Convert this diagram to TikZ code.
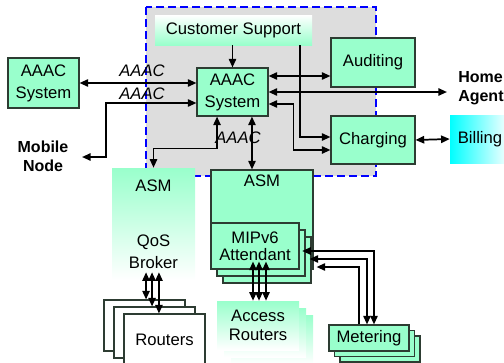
\documentclass[tikz,border=0pt]{standalone}
\usepackage{fontspec}
\setmainfont{Liberation Sans}
\usepackage{xcolor}
\usetikzlibrary{arrows.meta}

\definecolor{mint}{RGB}{153,255,204}
\definecolor{lightgray}{RGB}{221,221,221}
\definecolor{edge}{RGB}{45,60,50}

\begin{document}
\begin{tikzpicture}
	[
	x=0.75pt, y=-0.75pt,
	font=\fontsize{12.5}{16.5}\selectfont,
	box/.style={
		draw=edge,
		fill=mint,
		line width=0.8pt,
		align=center,
		inner sep=0pt
	},
	fadebox/.style={
		top color=mint,
		bottom color=white,
		align=center,
		inner sep=0pt
	},
	plain/.style={
		align=center,
		inner sep=0pt
	},
	outside/.style={
		align=center,
		inner sep=0pt,
		font=\fontsize{12}{14.25}\selectfont\bfseries
	},
	lbl/.style={
		font=\fontsize{12.5}{16.5}\selectfont\itshape,
		inner sep=0pt
	},
	arrow/.style={
		-{Triangle[length=6.5pt,width=5.5pt]},
		line width=1.3pt
	},
	dbl/.style={
		{Triangle[length=6.5pt,width=5.5pt]}-{Triangle[length=6.5pt,width=5.5pt]},
		line width=1.3pt
	}
	]
	
	\useasboundingbox (0,0) rectangle (504,362);
	
	% Operator domain
	\draw[blue, fill=lightgray, line width=1.1pt, dash pattern=on 6pt off 3pt]
		(146,7) rectangle (376,176);
	
	% Upper row
	\node[box, minimum width=53.25pt, minimum height=37.5pt] (lsys) at (43.5,83)
	{AAAC\\System};
	
	\node[box, minimum width=53.25pt, minimum height=36pt] (csys) at (232.5,92)
	{AAAC\\System};
	
	\node[plain, top color=white, bottom color=mint, minimum width=117.75pt, minimum height=22.5pt] (cust) at (233.5,30)
	{Customer Support};
	
	\node[box, minimum width=63pt, minimum height=36.75pt] (audit) at (373,62.5)
	{Auditing};
	
	\node[box, minimum width=63pt, minimum height=36pt] (charg) at (373,140)
	{Charging};
	
	\node[plain, left color=cyan, right color=white, minimum width=45pt, minimum height=36pt] (bill) at (480,139)
	{Billing};
	
	\node[outside, anchor=west, align=left] (home) at (458,88)
	{Home\\Agent};
	
	\node[outside] (mobile) at (43,156)
	{Mobile\\Node};
	
	% ASM blocks
	\node[fadebox, minimum width=62.25pt, minimum height=84pt] (asmq) at (153.5,224)
	{ASM\\[24.75pt]QoS\\Broker};
	
	\node[box, minimum width=76.5pt, minimum height=74.25pt,
		label={[anchor=north, inner sep=0pt, yshift=-4pt]north:ASM}] (asmm) at (262,219.5) {};
	
	\node[box, minimum width=66pt, minimum height=34.5pt] (mip3) at (267,260) {};
	\node[box, minimum width=66pt, minimum height=34.5pt] (mip2) at (261,253) {};
	\node[box, minimum width=66pt, minimum height=34.5pt, font=\fontsize{12.5}{13}\selectfont] (mip) at (255,246)
	{MIPv6\\Attendant};
	
	% Lower row
	\node[box, fill=white, minimum width=60.75pt, minimum height=38.25pt] (rt1) at (144.5,325.5) {};
	\node[box, fill=white, minimum width=60.75pt, minimum height=38.25pt] (rt2) at (154.5,332.5) {};
	\node[box, fill=white, minimum width=60.75pt, minimum height=38.25pt] (rt) at (164.5,339.5)
	{Routers};
	
	\node[fadebox, minimum width=61.5pt, minimum height=36.75pt] (acc3) at (272,339.5) {};
	\node[fadebox, minimum width=61.5pt, minimum height=36.75pt] (acc2) at (265,332.5) {};
	\node[fadebox, minimum width=61.5pt, minimum height=36.75pt, font=\fontsize{12.5}{14}\selectfont] (acc) at (258,325.5)
	{Access\\Routers};
	
	\node[box, minimum width=60pt, minimum height=19.5pt] (mt3) at (380,349) {};
	\node[box, minimum width=60pt, minimum height=19.5pt] (mt2) at (374.5,343.5) {};
	\node[box, minimum width=60pt, minimum height=19.5pt] (mt) at (369,338)
	{Metering};
	
	% Labels
	\node[lbl] (aaac1) at (142,71) {AAAC};
	\node[lbl] (aaac2) at (142,94) {AAAC};
	\node[lbl] (aaac3) at (238,138) {AAAC};
	
	% Free ends
	\coordinate (mn) at (82,157);
	\coordinate (ha) at (447,92);
	
	% Arrows
	\draw[dbl] (lsys.east) -- (lsys.east -| csys.west);
	\draw[dbl] (mn) -- ++(24,0) |- ([yshift=-8.25pt]csys.west);
	
	\draw[arrow] (cust.south -| csys.north) -- (csys.north);
	\draw[arrow] ([xshift=49.9pt]cust.south) |- ([yshift=2.25pt]charg.west);
	
	\draw[dbl] ([yshift=12pt]csys.east) -- ([yshift=12pt]audit.west |- csys.east);
	\draw[dbl] (csys.east) -- (ha);
	\draw[dbl] ([yshift=-9pt]csys.east) -- ++(25,0) |- ([yshift=-7.5pt]charg.west);
	\draw[dbl] (charg.east) -- (bill.west);
	
	\draw[dbl] ([xshift=14.6pt]csys.south) -- ([xshift=-7.5pt]asmm.north);
	\draw[dbl] ([xshift=-11.6pt]csys.south) -- ++(0,32) -| (asmq.north);
	
	% QoS broker to routers
	\coordinate (q1) at ([xshift=-5.6pt, yshift=6pt]asmq.south);
	\coordinate (q2) at ([xshift=-1.1pt, yshift=6pt]asmq.south);
	\coordinate (q3) at ([xshift=4.1pt, yshift=6pt]asmq.south);
	\draw[dbl] (q1) -- (q1 |- rt1.north);
	\draw[dbl] (q2) -- (q2 |- rt2.north);
	\draw[dbl] (q3) -- (q3 |- rt.north);
	
	% Attendant to access routers
	\coordinate (m1) at ([xshift=-1.5pt, yshift=6pt]mip.south);
	\coordinate (m2) at ([xshift=3pt, yshift=6pt]mip.south);
	\coordinate (m3) at ([xshift=8.25pt, yshift=6pt]mip.south);
	\draw[dbl] (m1) -- (m1 |- acc.north);
	\draw[dbl] (m2) -- (m2 |- acc.north);
	\draw[dbl] (m3) -- (m3 |- acc.north);
	
	% Metering to attendant
	\draw[dbl] ([xshift=3.75pt]mt.north) |- ([xshift=2pt, yshift=-3.75pt]mip.east);
	\draw[dbl] ([xshift=-1.5pt]mt.north) |- ([xshift=3pt, yshift=-4.5pt]mip2.east);
	\draw[arrow] ([xshift=-7.5pt]mt.north) |- ([xshift=3.75pt, yshift=-5.25pt]mip3.east);
	
\end{tikzpicture}
\end{document}
